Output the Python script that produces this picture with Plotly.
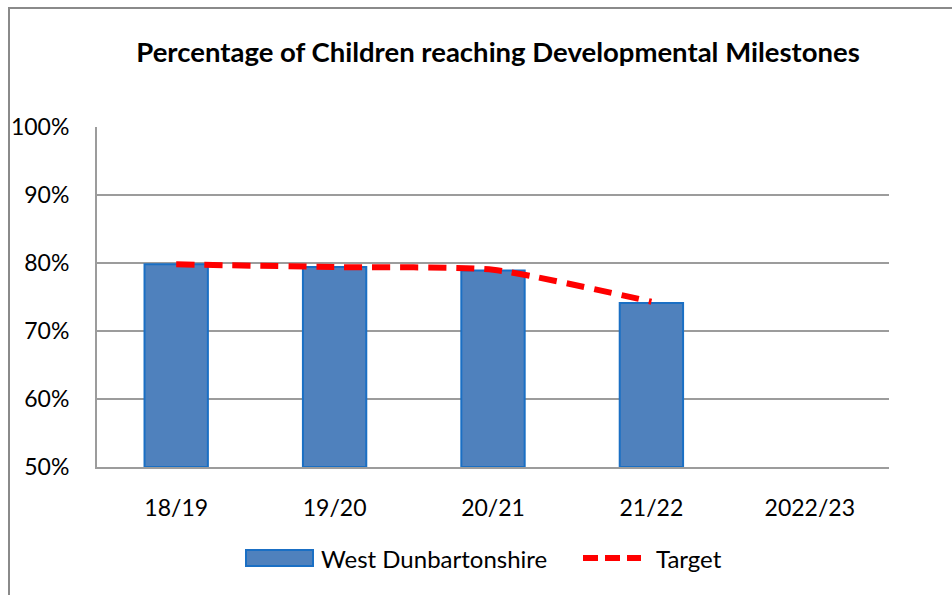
import plotly.graph_objects as go

categories = ["18/19", "19/20", "20/21", "21/22", "2022/23"]
wd_values = [79.8, 79.4, 78.9, 74.1, None]
target_values = [79.8, 79.4, 79.0, 74.3, None]
y_ticks = [50, 60, 70, 80, 90, 100]
y_tick_labels = ["50%", "60%", "70%", "80%", "90%", "100%"]
series_names = ["West Dunbartonshire", "Target"]

FONT = "Lato"
W, H = 952, 595
L, R, T, B = 97, 63, 127, 128
PW, PH = W - L - R, H - T - B


def px(fx):
    return (fx - L) / PW


def py(fy):
    return 1 - (fy - T) / PH


fig = go.Figure()
fig.add_trace(go.Bar(
    x=categories, y=[v if v is None else v - 50 for v in wd_values], base=50,
    name=series_names[0], showlegend=False,
    marker=dict(color="#4f81bd", line=dict(color="#1a6fc4", width=2)),
    width=0.4,
))
fig.add_trace(go.Scatter(
    x=categories, y=target_values, name=series_names[1], mode="lines", showlegend=False,
    line=dict(color="#ff0000", width=6, dash="18px,10px", shape="spline", smoothing=0.6),
))

shapes = [
    dict(type="rect", xref="paper", yref="paper",
         x0=px(9), x1=1.3, y0=-0.6, y1=py(8),
         line=dict(color="#8a8a8a", width=2), fillcolor="rgba(0,0,0,0)", layer="below"),
    # legend symbols
    dict(type="rect", xref="paper", yref="paper",
         x0=px(246), x1=px(313), y0=py(566), y1=py(550),
         line=dict(color="#1a6fc4", width=2), fillcolor="#4f81bd"),
    dict(type="line", xref="paper", yref="paper",
         x0=px(583), x1=px(641), y0=py(558), y1=py(558),
         line=dict(color="#ff0000", width=6, dash="15px,7px")),
]
annotations = [
    dict(text=series_names[0], xref="paper", yref="paper", x=px(319), y=py(558),
         xanchor="left", yanchor="middle", showarrow=False,
         font=dict(family=FONT, size=24, color="black")),
    dict(text=series_names[1], xref="paper", yref="paper", x=px(654), y=py(558),
         xanchor="left", yanchor="middle", showarrow=False,
         font=dict(family=FONT, size=24, color="black")),
]

fig.update_layout(
    width=W, height=H,
    paper_bgcolor="white", plot_bgcolor="white",
    margin=dict(l=L, r=R, t=T, b=B),
    title=dict(text="<b>Percentage of Children reaching Developmental Milestones</b>",
               x=px(498), xanchor="center", xref="paper", y=1 - 52 / H, yanchor="middle",
               font=dict(family=FONT, size=27.5, color="black")),
    font=dict(family=FONT, size=23, color="black"),
    showlegend=False,
    bargap=0.6,
    xaxis=dict(showgrid=False, showline=True, linecolor="#9c9c9c", linewidth=2,
               ticks="", ticklabelstandoff=19),
    yaxis=dict(range=[50, 100], tickvals=y_ticks, ticktext=y_tick_labels,
               showgrid=True, gridcolor="#9c9c9c", gridwidth=2,
               showline=True, linecolor="#9c9c9c", linewidth=2,
               ticks="", ticklabelstandoff=21, zeroline=False),
    shapes=shapes,
    annotations=annotations,
)

fig.write_html("out.html", config={"displayModeBar": False},
               post_script="document.body.style.margin='0';document.body.style.overflow='hidden';")
